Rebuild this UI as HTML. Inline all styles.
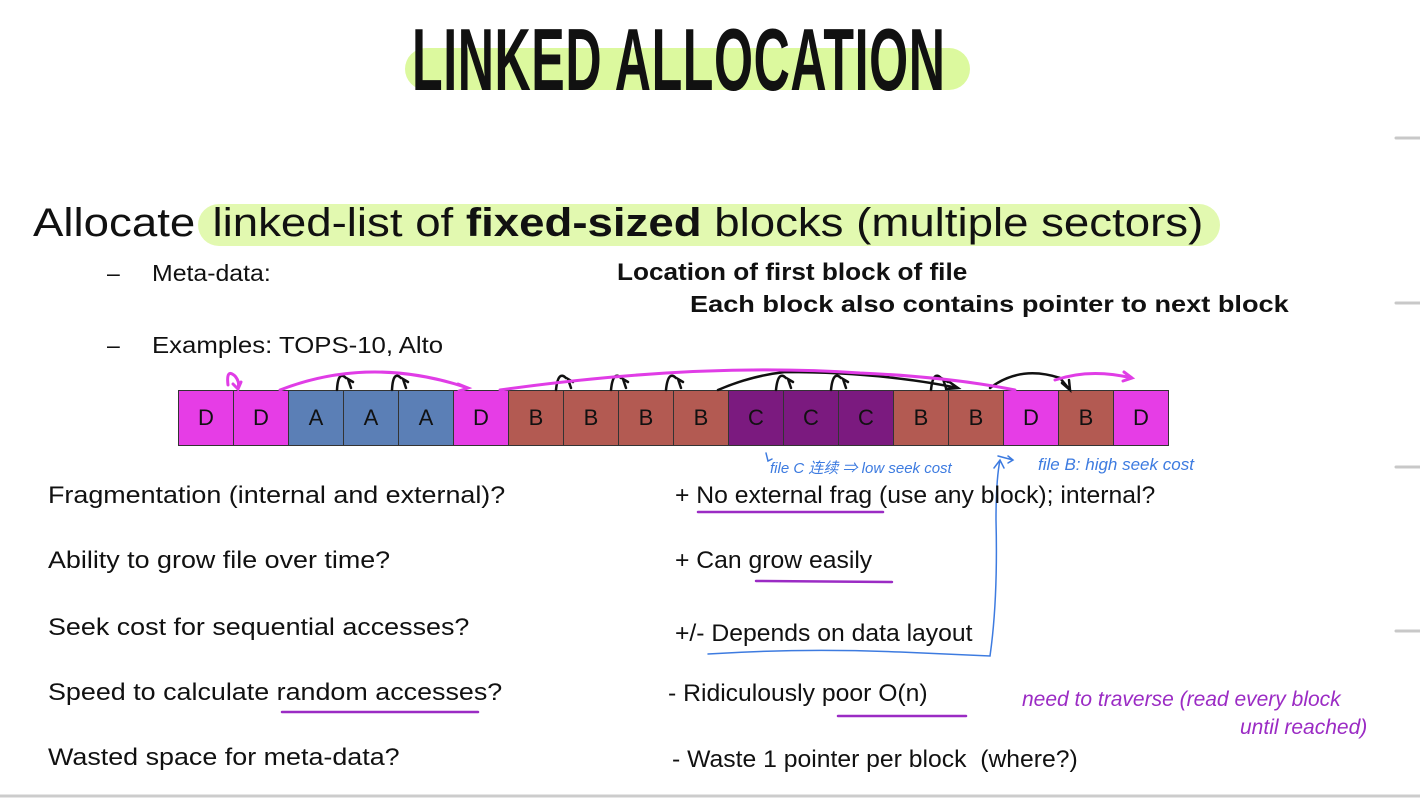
<!DOCTYPE html>
<html><head><meta charset="utf-8"><style>
body{margin:0;width:1420px;height:811px;background:#fff;position:relative;overflow:hidden;font-family:"Liberation Sans","Noto Sans CJK SC",sans-serif;color:#111}
.a{position:absolute;white-space:nowrap;transform-origin:left center}
.q{font-size:24px;left:48px;transform:scaleX(1.12)}
.r{font-size:24px;left:675px;transform:scaleX(1.03)}
.hw{font-family:"Liberation Sans Narrow","Liberation Sans","Noto Sans CJK SC",sans-serif;font-style:italic}
.blk{position:absolute;top:390px;height:56px;border:1.5px solid #333;box-sizing:border-box;font-size:22px;display:flex;align-items:center;justify-content:center;color:#111}
</style></head><body>
<div class="a" style="left:405px;top:48px;width:565px;height:42px;background:#dcf99e;border-radius:21px"></div>
<div class="a" style="left:412px;top:10px;font-family:'Liberation Sans Narrow','Liberation Sans',sans-serif;font-weight:bold;font-size:88px;line-height:100px;transform:scaleX(0.57);letter-spacing:1px">LINKED ALLOCATION</div>

<div class="a" style="left:198px;top:204px;width:1022px;height:42px;background:#e2f9b0;border-radius:21px"></div>
<div class="a" style="left:33px;top:198px;font-size:40px;line-height:50px;transform:scaleX(1.14)">Allocate <span style="padding-left:4px">linked-list of <b>fixed-sized</b> blocks (multiple sectors)</span></div>

<div class="a" style="left:107px;top:260px;font-size:23px">–</div>
<div class="a" style="left:152px;top:260px;font-size:23px;transform:scaleX(1.08)">Meta-data:</div>
<div class="a" style="left:617px;top:259px;font-size:24px;font-weight:bold;transform:scaleX(1.09)">Location of first block of file</div>
<div class="a" style="left:690px;top:291px;font-size:23px;font-weight:bold;transform:scaleX(1.18)">Each block also contains pointer to next block</div>
<div class="a" style="left:107px;top:332px;font-size:23px">–</div>
<div class="a" style="left:152px;top:332px;font-size:23px;transform:scaleX(1.12)">Examples: TOPS-10, Alto</div>

<div class="blk" style="left:178px;width:56px;background:#e63de6">D</div>
<div class="blk" style="left:233px;width:56px;background:#e63de6">D</div>
<div class="blk" style="left:288px;width:56px;background:#5b7fb6">A</div>
<div class="blk" style="left:343px;width:56px;background:#5b7fb6">A</div>
<div class="blk" style="left:398px;width:56px;background:#5b7fb6">A</div>
<div class="blk" style="left:453px;width:56px;background:#e63de6">D</div>
<div class="blk" style="left:508px;width:56px;background:#b35a52">B</div>
<div class="blk" style="left:563px;width:56px;background:#b35a52">B</div>
<div class="blk" style="left:618px;width:56px;background:#b35a52">B</div>
<div class="blk" style="left:673px;width:56px;background:#b35a52">B</div>
<div class="blk" style="left:728px;width:56px;background:#7b1a7f">C</div>
<div class="blk" style="left:783px;width:56px;background:#7b1a7f">C</div>
<div class="blk" style="left:838px;width:56px;background:#7b1a7f">C</div>
<div class="blk" style="left:893px;width:56px;background:#b35a52">B</div>
<div class="blk" style="left:948px;width:56px;background:#b35a52">B</div>
<div class="blk" style="left:1003px;width:56px;background:#e63de6">D</div>
<div class="blk" style="left:1058px;width:56px;background:#b35a52">B</div>
<div class="blk" style="left:1113px;width:56px;background:#e63de6">D</div>

<svg class="a" style="left:0;top:0" width="1420" height="811" fill="none" stroke-linecap="round">
<g stroke="#111" stroke-width="2.5">
<path d="M337 390 Q338 370 346 378 M351 388 l-3 -9 l5 3"/>
<path d="M392 390 Q393 370 401 378 M406 388 l-3 -9 l5 3"/>
<path d="M556 390 Q558 370 566 378 M571 388 l-3 -9 l5 3"/>
<path d="M611 390 Q613 370 621 378 M626 388 l-3 -9 l5 3"/>
<path d="M666 390 Q668 370 676 378 M681 388 l-3 -9 l5 3"/>
<path d="M776 390 Q778 370 786 378 M791 388 l-3 -9 l5 3"/>
<path d="M831 390 Q833 370 841 378 M846 388 l-3 -9 l5 3"/>
<path d="M931 390 Q933 370 941 378 M946 388 l-3 -9 l5 3"/>
<path d="M718 390 Q750 376 785 372 Q880 372 958 388 M948 381 l10 7 l-12 1"/>
<path d="M990 388 Q1020 365 1060 378 L1070 390 M1062 383 l8 7 l-1 -10"/>
</g>
<g stroke="#e03de6" stroke-width="3">
<path d="M228 385 Q226 368 235 376 Q240 382 238 388 M233 384 l5 5 l3 -7"/>
<path d="M280 390 Q370 355 468 388 M458 384 l10 4 l-9 3"/>
<path d="M500 390 Q700 362 860 373 Q950 377 1015 390"/>
<path d="M1055 380 Q1090 368 1132 378 M1124 372 l8 6 l-9 3"/>
</g>
<g stroke="#3d7be0" stroke-width="1.5">
<path d="M766 453 l2 8 l4 -2"/>
<path d="M998 456 l15 4 M1008 456 l5 4 l-5 3"/>
<path d="M708 654 Q800 648 900 652 L990 656 Q998 600 996 520 Q996 480 1000 460 M994 468 l6 -8 l4 8"/>
</g>
<g stroke="#9b2bc4" stroke-width="2.5">
<path d="M698 512 L883 512"/><path d="M756 581 L892 582"/><path d="M282 712 L478 712"/><path d="M838 716 L966 716"/>
</g>
<g stroke="#c8c8c8" stroke-width="3"><path d="M1396 138 H1420 M1396 303 H1420 M1396 467 H1420 M1396 631 H1420"/></g>
<path d="M0 796 H1420" stroke="#ccc" stroke-width="3"/>
</svg>

<div class="a hw" style="left:770px;top:457px;font-size:15px;color:#3d7be0">file C 连续 ⇒ low seek cost</div>
<div class="a hw" style="left:1038px;top:455px;font-size:17px;color:#3d7be0">file B: high seek cost</div>

<div class="a q" style="top:482px">Fragmentation (internal and external)?</div>
<div class="a q" style="top:547px">Ability to grow file over time?</div>
<div class="a q" style="top:614px">Seek cost for sequential accesses?</div>
<div class="a q" style="top:679px">Speed to calculate random accesses?</div>
<div class="a q" style="top:744px">Wasted space for meta-data?</div>

<div class="a r" style="top:482px">+ No external frag (use any block); internal?</div>
<div class="a r" style="top:547px">+ Can grow easily</div>
<div class="a r" style="top:620px">+/- Depends on data layout</div>
<div class="a r" style="top:680px;left:668px">- Ridiculously poor O(n)</div>
<div class="a r" style="top:746px;left:672px">- Waste 1 pointer per block&nbsp; (where?)</div>

<div class="a hw" style="left:1022px;top:688px;font-size:21px;color:#9b2bc4">need to traverse (read every block</div>
<div class="a hw" style="left:1240px;top:716px;font-size:21px;color:#9b2bc4">until reached)</div>
</body></html>
